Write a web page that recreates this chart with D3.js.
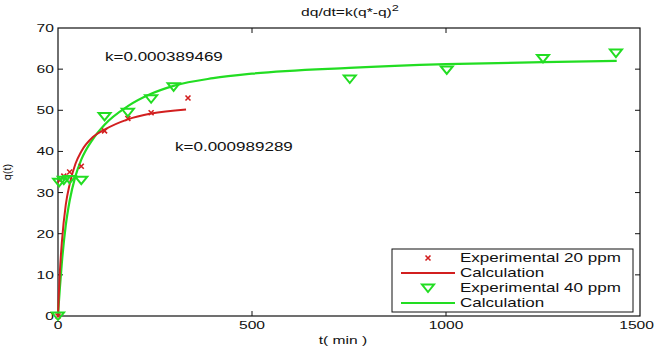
<!DOCTYPE html>
<html>
<head>
<meta charset="utf-8">
<script src="https://cdn.jsdelivr.net/npm/d3@7"></script>
<style>
  body { margin: 0; background: #fff; }
  text { font-family: "Liberation Sans", Arial, sans-serif; fill: #111; }
</style>
</head>
<body>
<svg id="chart" width="655" height="349"></svg>
<script>
// experimental points, 20 ppm
var exp20_t = [0, 5, 15, 30, 60, 120, 180, 240, 335]
var exp20_q = [0, 33, 34, 35, 36.4, 45, 48, 49.4, 53]
// experimental points, 40 ppm
var exp40_t = [0, 3, 15, 30, 60, 120, 180, 240, 298, 752, 1002, 1250, 1438]
var exp40_q = [0, 32.5, 33, 33.2, 33, 48.5, 49.5, 52.8, 55.7, 57.6, 59.8, 62.6, 63.9]
// calculated curves
var calc20_t = [0, 2, 5, 10, 20, 30, 45, 60, 90, 120, 180, 240, 330]
var calc20_q = [0, 5, 11, 18, 27, 32, 37, 40, 43.5, 45.3, 47.8, 49.2, 50.2]
var calc40_t = [0, 2, 5, 10, 20, 30, 45, 60, 90, 120, 180, 240, 300, 400, 500, 750, 1000, 1250, 1440]
var calc40_q = [0, 3, 7, 13, 22, 28, 34, 38, 43, 46.5, 51, 54, 56, 57.8, 58.9, 60.3, 61.2, 61.7, 62]

var xTicks = [0, 500, 1000, 1500]
var yTicks = [0, 10, 20, 30, 40, 50, 60, 70]
var legendLabels = ['Experimental 20 ppm', 'Calculation', 'Experimental 40 ppm', 'Calculation']
var kLabels = ['k=0.000389469', 'k=0.000989289']

var red = '#d21f1f', green = '#22dd22'
var svg = d3.select('#chart')
var m = {left: 58, right: 640, top: 28, bottom: 316}

var x = d3.scaleLinear().domain([0, 1500]).range([m.left, m.right])
var y = d3.scaleLinear().domain([0, 70]).range([m.bottom, m.top])

// stretched text like the original bitmap
function label(g, str, px, py, anchor, size) {
  return g.append('text')
    .attr('transform', `translate(${px},${py}) scale(1.42,1)`)
    .attr('text-anchor', anchor || 'start')
    .style('font-size', (size || 12) + 'px')
    .text(str)
}

// Box
svg.append('rect')
  .attr('x', m.left).attr('y', m.top)
  .attr('width', m.right - m.left).attr('height', m.bottom - m.top)
  .attr('fill', 'none').attr('stroke', '#111').attr('stroke-width', 1.2)

// Ticks inward on all four sides
var axes = svg.append('g').attr('stroke', '#111').attr('stroke-width', 1)
xTicks.slice(1, -1).forEach(t => {
  axes.append('line').attr('x1', x(t)).attr('x2', x(t)).attr('y1', m.bottom).attr('y2', m.bottom - 5)
  axes.append('line').attr('x1', x(t)).attr('x2', x(t)).attr('y1', m.top).attr('y2', m.top + 5)
})
yTicks.slice(1, -1).forEach(v => {
  axes.append('line').attr('x1', m.left).attr('x2', m.left + 5).attr('y1', y(v)).attr('y2', y(v))
  axes.append('line').attr('x1', m.right).attr('x2', m.right - 5).attr('y1', y(v)).attr('y2', y(v))
})

// Tick labels
var lab = svg.append('g')
xTicks.forEach(t => {
  if (t === 1500) label(lab, t, 654, m.bottom + 13, 'end', 11)
  else label(lab, t, x(t), m.bottom + 13, 'middle', 11)
})
yTicks.forEach(v => label(lab, v, m.left - 4, y(v) + 4, 'end', 11))

// Axis titles
label(lab, 't( min )', 343, 344, 'middle', 11)
lab.append('text')
  .attr('transform', `translate(11,172) rotate(-90)`)
  .attr('text-anchor', 'middle')
  .style('font-size', '11px')
  .text('q(t)')

// Title
var title = label(svg, '', 350, 16, 'middle', 11)
title.append('tspan').text('dq/dt=k(q*-q)')
title.append('tspan').attr('dy', -5).style('font-size', '9px').text('2')

// k annotations
label(svg, kLabels[0], 105, 61)
label(svg, kLabels[1], 175, 151)

// Curves
var line = d3.line().x(d => x(d[0])).y(d => y(d[1])).curve(d3.curveMonotoneX)
svg.append('path').datum(d3.zip(calc40_t, calc40_q))
  .attr('d', line).attr('fill', 'none').attr('stroke', green).attr('stroke-width', 2.2)
svg.append('path').datum(d3.zip(calc20_t, calc20_q))
  .attr('d', line).attr('fill', 'none').attr('stroke', red).attr('stroke-width', 2)

// Markers
function cross(g, cx, cy) {
  g.append('path')
    .attr('d', `M${cx-2.5},${cy-2.5}L${cx+2.5},${cy+2.5}M${cx-2.5},${cy+2.5}L${cx+2.5},${cy-2.5}`)
    .attr('stroke', red).attr('stroke-width', 1.6)
}
function tri(g, cx, cy) {
  g.append('path')
    .attr('d', `M${cx-6},${cy-3.5}L${cx+6},${cy-3.5}L${cx},${cy+4}Z`)
    .attr('fill', 'none').attr('stroke', green).attr('stroke-width', 2)
}
var marks = svg.append('g')
d3.zip(exp20_t, exp20_q).forEach(d => cross(marks, x(d[0]), y(d[1])))
d3.zip(exp40_t, exp40_q).forEach(d => tri(marks, x(d[0]), y(d[1])))

// Legend
var lg = svg.append('g')
lg.append('rect').attr('x', 392).attr('y', 249).attr('width', 241).attr('height', 63)
  .attr('fill', '#fff').attr('stroke', '#111').attr('stroke-width', 1)
var rowY = [258, 273, 288, 303]
legendLabels.forEach((s, i) => label(lg, s, 460, rowY[i] + 4))
cross(lg, 428, rowY[0])
lg.append('line').attr('x1', 401).attr('x2', 455).attr('y1', rowY[1]).attr('y2', rowY[1]).attr('stroke', red).attr('stroke-width', 2)
tri(lg, 428, rowY[2])
lg.append('line').attr('x1', 401).attr('x2', 455).attr('y1', rowY[3]).attr('y2', rowY[3]).attr('stroke', green).attr('stroke-width', 2)
</script>
</body>
</html>
